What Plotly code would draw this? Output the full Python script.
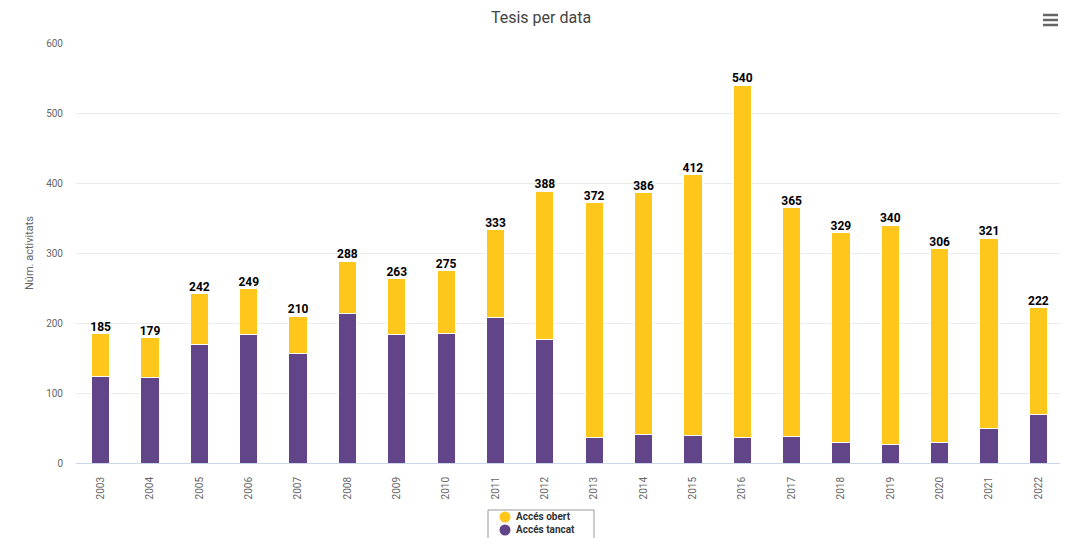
import plotly.graph_objects as go

years = [str(y) for y in range(2003, 2023)]
totals = [185, 179, 242, 249, 210, 288, 263, 275, 333, 388, 372, 386, 412, 540, 365, 329, 340, 306, 321, 222]
tancat = [124, 122, 170, 183, 157, 213, 183, 185, 208, 177, 36, 41, 39, 36, 38, 29, 26, 29, 49, 69]
obert = [t - c for t, c in zip(totals, tancat)]
y_ticks = [0, 100, 200, 300, 400, 500, 600]
legend_names = ["Accés obert", "Accés tancat"]

YELLOW = "#FFC61C"
PURPLE = "#624488"

# figure geometry (page has an 8px body margin)
W, H = 1060, 530
L, R, T, B = 68, 5, 35, 75
PW, PH = W - L - R, H - T - B
OFF = 8


def px(x):  # screen x -> paper x
    return (x - OFF - L) / PW


def py(y):  # screen y -> paper y
    return (H - B - (y - OFF)) / PH


fig = go.Figure()
fig.add_trace(go.Bar(x=years, y=tancat, name=legend_names[1],
                     marker=dict(color=PURPLE, line=dict(color="white", width=1)),
                     showlegend=False, width=0.37))
fig.add_trace(go.Bar(x=years, y=obert, name=legend_names[0],
                     marker=dict(color=YELLOW, line=dict(color="white", width=1)),
                     showlegend=False, width=0.37))
fig.add_trace(go.Scatter(x=years, y=totals, mode="text", text=[str(t) for t in totals],
                         textposition="top center", showlegend=False, hoverinfo="skip",
                         cliponaxis=False,
                         textfont=dict(family="Roboto, Arial", size=12, color="#000000", weight="bold")))

shapes = [dict(type="line", xref="paper", yref="paper", x0=px(1043), x1=px(1058),
               y0=py(yy), y1=py(yy), line=dict(color="#666666", width=2.5))
          for yy in (15, 20, 25)]
# legend box and symbols (drawn manually to match the compact legend)
shapes.append(dict(type="rect", xref="paper", yref="paper", x0=px(488), x1=px(594),
                   y0=py(510), y1=py(545), line=dict(color="#999999", width=1),
                   fillcolor="white", layer="above"))
FS = 10
line_h = FS * 1.3
center = 523
for i, col in enumerate([YELLOW, PURPLE]):
    cy = center + (i - 0.5) * line_h + 0.5
    shapes.append(dict(type="circle", xref="paper", yref="paper",
                       x0=px(499.5), x1=px(510.5), y0=py(cy - 5.5), y1=py(cy + 5.5),
                       fillcolor=col, line=dict(width=0), layer="above"))
annotations = [dict(text="<br>".join(legend_names), xref="paper", yref="paper",
                    x=px(515), y=py(center), xanchor="left", yanchor="middle", align="left",
                    showarrow=False, borderpad=0,
                    font=dict(family="Roboto, Arial", size=FS, color="#333333", weight="bold"))]

fig.update_layout(
    width=W, height=H,
    barmode="stack",
    paper_bgcolor="white", plot_bgcolor="white",
    margin=dict(l=L, r=R, t=T, b=B, autoexpand=False),
    title=dict(text="Tesis per data", x=533 / W, xanchor="center", y=1 - 9 / H, yanchor="middle",
               font=dict(family="Roboto, Arial", size=16, color="#444444")),
    font=dict(family="Roboto, Arial", color="#666666"),
    showlegend=False,
    xaxis=dict(type="category", range=[-0.5, 19.5], tickangle=-90,
               tickfont=dict(size=10, color="#666666"),
               showgrid=False, showline=True, linecolor="#ccd6eb", ticks="", ticklen=0,
               ticklabelstandoff=9, automargin=False),
    yaxis=dict(range=[0, 600], tickvals=y_ticks, ticktext=[str(v) for v in y_ticks],
               tickfont=dict(size=10, color="#666666"), gridcolor="#ececec", gridwidth=1,
               zeroline=False, ticklabelstandoff=12, automargin=False,
               title=dict(text="Núm. activitats", font=dict(size=11, color="#666666"), standoff=10)),
    shapes=shapes,
    annotations=annotations,
)

fig.write_html("out.html")
